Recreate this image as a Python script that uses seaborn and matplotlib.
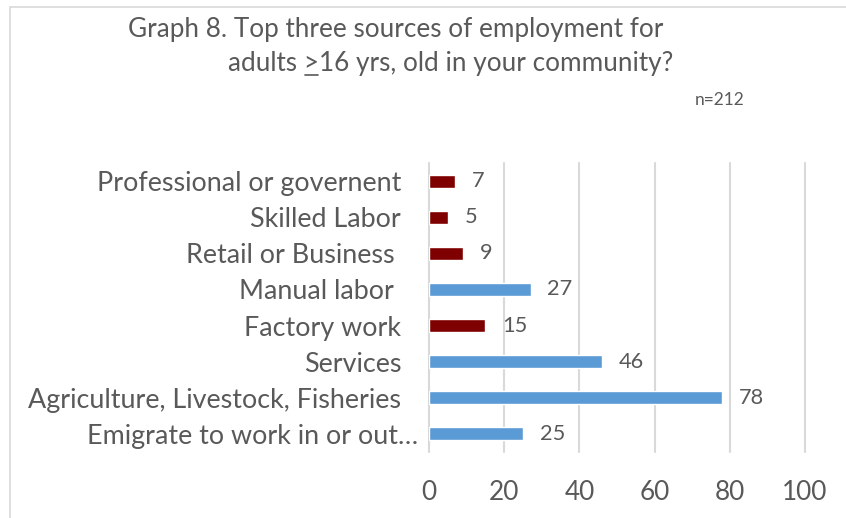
import matplotlib
matplotlib.use("Agg")
import matplotlib.pyplot as plt
import matplotlib.transforms as mtransforms
from matplotlib.patches import Rectangle
import seaborn as sns
import pandas as pd

# Employment sources, top to bottom as listed
categories = [
    "Professional or governent",
    "Skilled Labor",
    "Retail or Business ",
    "Manual labor ",
    "Factory work",
    "Services",
    "Agriculture, Livestock, Fisheries",
    "Emigrate to work in or out\u2026",
]
counts = [7, 5, 9, 27, 15, 46, 78, 25]
groups = ["other", "other", "other", "main", "other", "main", "main", "main"]
x_ticks = [0, 20, 40, 60, 80, 100]

sns.set_theme(style="white")
FONT = ["Lato", "DejaVu Sans"]
plt.rcParams["font.family"] = FONT
TXT = "#595959"

df = pd.DataFrame({"category": categories, "count": counts, "group": groups})

fig = plt.figure(figsize=(8.46, 5.18), dpi=100)
fig.patch.set_facecolor("white")
# chart-area border
fig.patches.append(Rectangle((10 / 846, -0.01), 1.0, 1 - 7 / 518 + 0.01,
                             transform=fig.transFigure, fill=False,
                             edgecolor="#D9D9D9", lw=1.2))

ax = fig.add_axes([429 / 846, 1 - 452 / 518, (805 - 429) / 846, (452 - 163) / 518])
sns.barplot(data=df, y="category", x="count", hue="group", dodge=False,
            palette={"main": "#5B9BD5", "other": "#7F0000"}, saturation=1,
            width=0.36, legend=False, ax=ax, order=categories)

for cont in ax.containers:
    ax.bar_label(cont, padding=12, fontsize=15.7, color=TXT, family=FONT)

ax.set_xlim(0, 100)
ax.set_xticks(x_ticks)
ax.set_xticklabels([str(t) for t in x_ticks])
ax.set_xlabel("")
ax.set_ylabel("")
for s in ax.spines.values():
    s.set_visible(False)
ax.grid(axis="x", color="#D9D9D9", lw=1.5)
ax.grid(axis="y", visible=False)
for gl in ax.get_xgridlines():
    gl.set_clip_on(False)
ax.set_axisbelow(True)
ax.tick_params(axis="x", length=0, pad=20, labelsize=18.8, labelcolor=TXT)
ax.tick_params(axis="y", length=0, pad=20, labelsize=19.4, labelcolor=TXT)

# the truncated last label sits closer to the axis
last = ax.get_yticklabels()[-1]
last.set_transform(last.get_transform()
                   + mtransforms.ScaledTranslation(17 / 100, 0, fig.dpi_scale_trans))

# title, two lines
TSIZE = 18.8
fig.text(128 / 846, 1 - 30 / 518, "Graph 8. Top three sources of employment for",
         fontsize=TSIZE, color=TXT, ha="left", va="center")
line2_x = 228 / 846
line2_y = 1 - 64 / 518
fig.text(line2_x, line2_y, "adults >16 yrs, old in your community?",
         fontsize=TSIZE, color=TXT, ha="left", va="center")
# underline the ">" sign so it reads as "at least"
renderer = fig.canvas.get_renderer()
pre = fig.text(line2_x, line2_y, "adults ", fontsize=TSIZE, ha="left", va="center")
gt = fig.text(line2_x, line2_y, ">", fontsize=TSIZE, ha="left", va="center")
w_pre = pre.get_window_extent(renderer).width
bb_gt = gt.get_window_extent(renderer)
pre.remove()
gt.remove()
x0 = (line2_x * 846 + w_pre + 1) / 846
x1 = (line2_x * 846 + w_pre + bb_gt.width - 1) / 846
yb = (bb_gt.y0 + 2) / 518
fig.add_artist(plt.Line2D([x0, x1], [yb, yb], transform=fig.transFigure,
                          color=TXT, lw=1.2))

fig.text(744 / 846, 1 - 100 / 518, "n=212", fontsize=12.5, color=TXT,
         ha="right", va="center")

fig.savefig("out.png", dpi=100, facecolor="white")
